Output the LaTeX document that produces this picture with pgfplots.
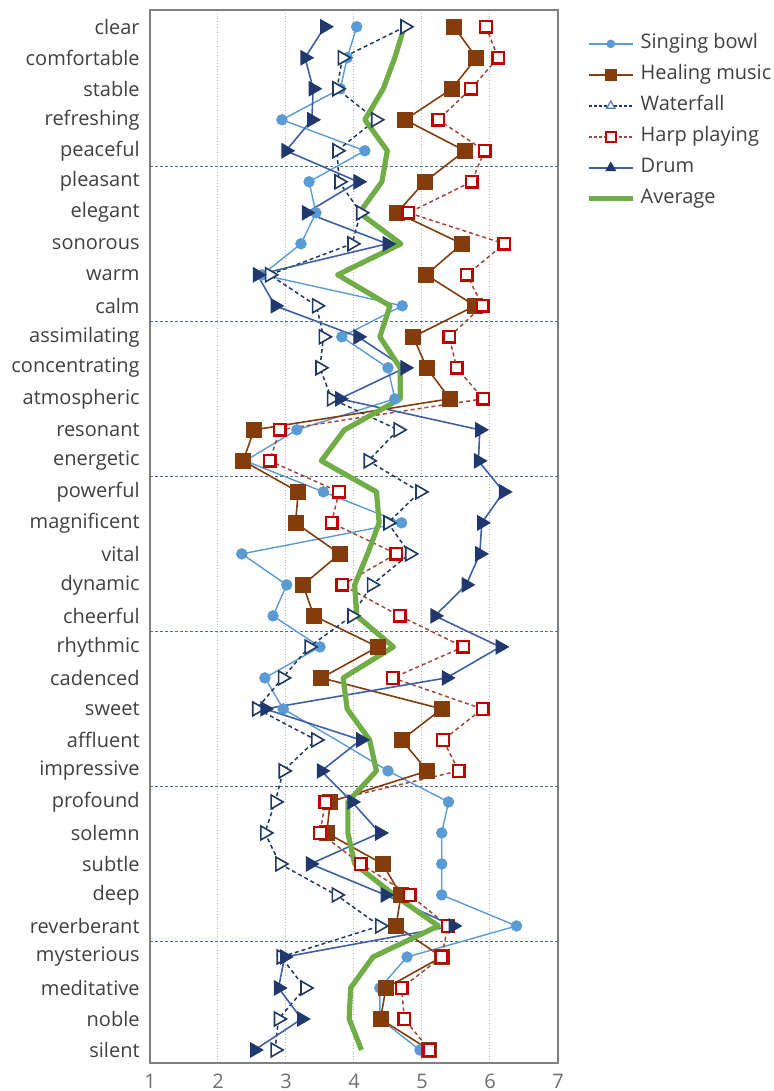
\documentclass[border=0pt]{standalone}
\usepackage{fontspec}
\setmainfont{Open Sans}
\usepackage{pgfplots}
\pgfplotsset{compat=1.18}
\usepackage{pgfplotstable}

\definecolor{sbblue}{RGB}{91,155,213}
\definecolor{hmbrown}{RGB}{132,60,12}
\definecolor{wfnavy}{RGB}{31,56,100}
\definecolor{hpred}{RGB}{192,0,0}
\definecolor{hpline}{RGB}{160,72,60}
\definecolor{drmark}{RGB}{32,56,110}
\definecolor{drline}{RGB}{62,96,166}
\definecolor{avggreen}{RGB}{112,173,71}
\definecolor{gridgray}{RGB}{185,185,185}
\definecolor{sepblue}{RGB}{80,105,150}
\definecolor{framegray}{RGB}{128,128,128}
\definecolor{labelgray}{RGB}{64,64,64}
\definecolor{tickgray}{RGB}{110,110,110}

% mean ratings per adjective (row 0 = clear ... row 33 = silent)
\pgfplotstableread{
idx sb   hm   wf   hp   dr   avg
0   4.04 5.47 4.75 5.94 3.57 4.74
1   3.90 5.80 3.83 6.12 3.28 4.60
2   3.80 5.44 3.75 5.72 3.40 4.43
3   2.94 4.75 4.32 5.24 3.38 4.16
4   4.16 5.63 3.75 5.92 3.00 4.49
5   3.34 5.04 3.78 5.73 4.06 4.41
6   3.44 4.63 4.10 4.80 3.30 4.08
7   3.22 5.59 3.97 6.21 4.49 4.69
8   2.65 5.06 2.76 5.66 2.58 3.76
9   4.71 5.78 3.45 5.89 2.84 4.53
10  3.82 4.87 3.55 5.40 4.06 4.38
11  4.50 5.07 3.50 5.51 4.75 4.68
12  4.60 5.41 3.67 5.90 3.79 4.68
13  3.16 2.53 4.65 2.91 5.85 3.86
14  2.40 2.37 4.21 2.76 5.83 3.52
15  3.55 3.18 4.97 3.78 6.20 4.33
16  4.70 3.14 4.50 3.67 5.88 4.37
17  2.35 3.79 4.82 4.62 5.85 4.20
18  3.01 3.25 4.26 3.83 5.65 4.01
19  2.81 3.41 3.97 4.67 5.19 4.04
20  3.50 4.35 3.34 5.61 6.15 4.58
21  2.69 3.52 2.95 4.57 5.36 3.84
22  2.96 5.29 2.57 5.89 2.69 3.90
23  3.74 4.70 3.44 5.31 4.10 4.23
24  4.50 5.08 2.96 5.54 3.52 4.33
25  5.39 3.65 2.84 3.58 3.97 3.91
26  5.29 3.60 2.69 3.50 4.38 3.91
27  5.29 4.42 2.91 4.10 3.36 4.01
28  5.29 4.69 3.74 4.82 4.46 4.59
29  6.39 4.62 4.38 5.38 5.46 5.24
30  4.78 5.29 2.93 5.29 2.98 4.28
31  4.38 4.47 3.28 4.70 2.89 3.95
32  4.38 4.39 2.89 4.74 3.23 3.93
33  4.97 5.11 2.84 5.11 2.54 4.11
}\profile

\begin{document}
\begin{tikzpicture}
\path[use as bounding box] (-75bp,-14bp) rectangle (312bp,531.5bp);
\begin{axis}[
  scale only axis, width=204bp, height=526.5bp,
  xmin=1, xmax=7, ymin=-0.54, ymax=33.42, y dir=reverse,
  xtick={1,...,7}, ytick={0,...,33},
  yticklabels={clear,comfortable,stable,refreshing,peaceful,pleasant,elegant,sonorous,warm,calm,assimilating,concentrating,atmospheric,resonant,energetic,powerful,magnificent,vital,dynamic,cheerful,rhythmic,cadenced,sweet,affluent,impressive,profound,solemn,subtle,deep,reverberant,mysterious,meditative,noble,silent},
  /pgf/number format/assume math mode=true,
  yticklabel style={anchor=east, inner sep=0pt, xshift=-5bp, font=\fontsize{10bp}{12bp}\selectfont, text=labelgray},
  xticklabel style={anchor=north, inner sep=0pt, yshift=-5.5bp, font=\fontsize{10bp}{12bp}\selectfont, text=tickgray},
  xmajorgrids, ymajorgrids=false,
  major grid style={gridgray, densely dotted, line width=0.5bp},
  extra y ticks={4.5,9.5,14.5,19.5,24.5,29.5}, extra y tick labels={},
  extra y tick style={grid=major, major grid style={sepblue, dash pattern=on 1.5bp off 1bp, line width=0.45bp}},
  tick style={draw=none},
  axis line style={framegray, line width=1.1bp},
  legend image code/.code={\draw[mark repeat=2,mark phase=2,#1] plot coordinates {(0bp,0bp) (11bp,0bp) (22bp,0bp)};},
  legend style={at={(axis description cs:1,1)}, anchor=north west, xshift=14bp, yshift=-9bp,
    draw=none, fill=none, inner sep=0pt, row sep=0pt,
    font=\fontsize{10bp}{12bp}\selectfont, text=labelgray,
    nodes={text height=7.5bp, text depth=2.5bp, inner sep=2.75bp}},
  legend cell align=left,
]
% Singing bowl (the affluent value sits on the line without a visible marker)
\addplot[sbblue, line width=0.7bp, mark=*, mark size=2.5bp, mark options={fill=sbblue, draw=sbblue},
  mark indices={1,2,3,4,5,6,7,8,9,10,11,12,13,14,15,16,17,18,19,20,21,22,23,25,26,27,28,29,30,31,32,33,34}, forget plot]
  table[x=sb, y=idx] {\profile};
% Healing music
\addplot[hmbrown, line width=0.8bp, mark=square*, mark size=3.6bp, mark options={fill=hmbrown, draw=hmbrown}, forget plot]
  table[x=hm, y=idx] {\profile};
% Waterfall
\addplot[wfnavy, line width=0.75bp, dash pattern=on 2bp off 1.5bp, mark=triangle*, mark size=4bp,
  mark options={solid, fill=white, draw=wfnavy, line width=0.8bp, rotate=-90}, forget plot]
  table[x=wf, y=idx] {\profile};
% Harp playing
\addplot[hpline, line width=0.75bp, dash pattern=on 2bp off 1.5bp, mark=square*, mark size=2.9bp,
  mark options={solid, fill=white, draw=hpred, line width=1.2bp}, forget plot]
  table[x=hp, y=idx] {\profile};
% Drum
\addplot[drline, line width=0.8bp, mark=triangle*, mark size=3.8bp,
  mark options={fill=drmark, draw=drmark, rotate=-90}, forget plot]
  table[x=dr, y=idx] {\profile};
% Average of the five sound sources
\addplot[avggreen, line width=2.6bp, line join=round, forget plot]
  table[x=avg, y=idx] {\profile};

\addlegendimage{sbblue, line width=0.7bp, mark=*, mark size=1.8bp, mark options={fill=sbblue}}
\addlegendentry{Singing bowl}
\addlegendimage{hmbrown, line width=0.8bp, mark=square*, mark size=2.6bp, mark options={fill=hmbrown}}
\addlegendentry{Healing music}
\addlegendimage{wfnavy, line width=0.6bp, dash pattern=on 1.5bp off 1bp, mark=triangle*, mark size=2.4bp, mark options={solid, fill=white, draw=sbblue!70!wfnavy}}
\addlegendentry{Waterfall}
\addlegendimage{hpline, line width=0.6bp, dash pattern=on 1.5bp off 1bp, mark=square*, mark size=2.6bp, mark options={solid, fill=white, draw=hpred, line width=1bp}}
\addlegendentry{Harp playing}
\addlegendimage{drline, line width=0.8bp, mark=triangle*, mark size=2.4bp, mark options={fill=drmark, draw=drmark}}
\addlegendentry{Drum}
\addlegendimage{avggreen, line width=2.4bp}
\addlegendentry{Average}
\end{axis}
\end{tikzpicture}
\end{document}
